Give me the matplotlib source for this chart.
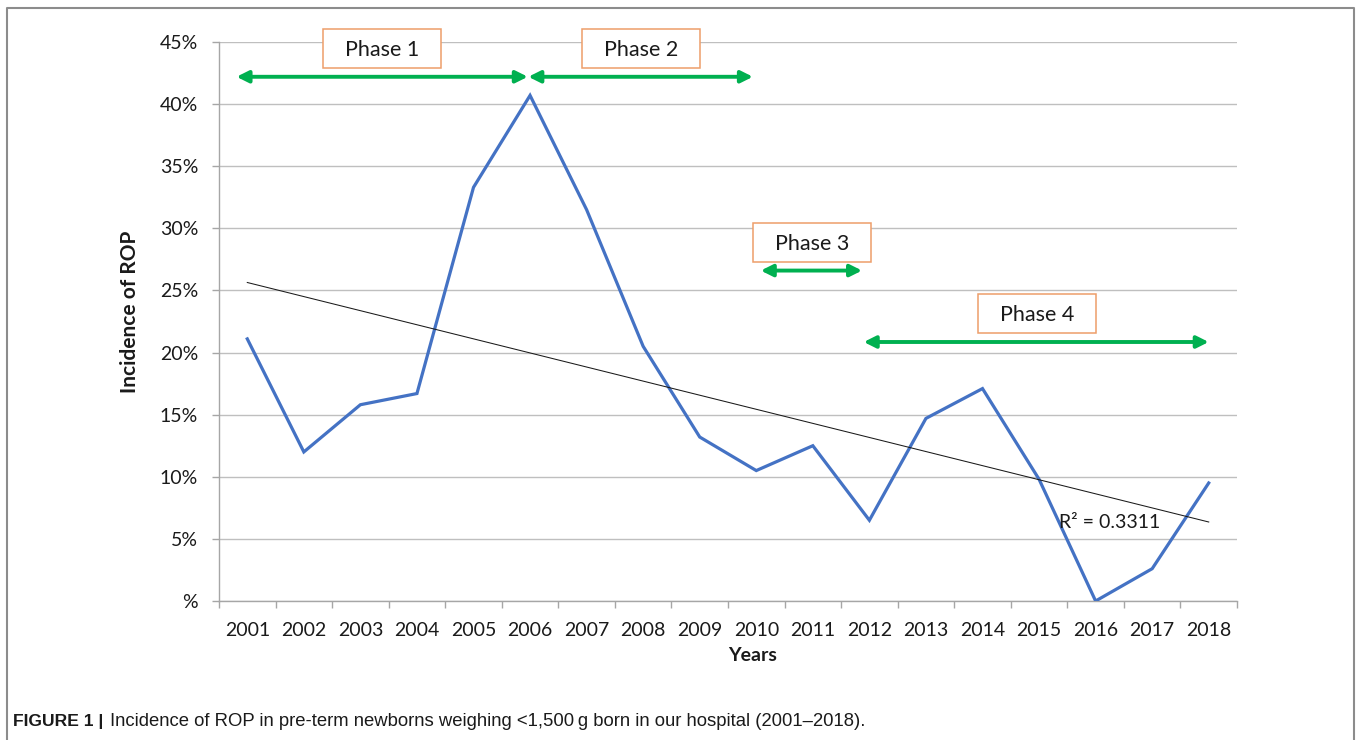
import numpy as np
import matplotlib
matplotlib.use("Agg")
import matplotlib.pyplot as plt
from matplotlib.patches import FancyArrowPatch, Rectangle
from matplotlib.lines import Line2D

plt.rcParams['font.family'] = ['Lato', 'DejaVu Sans']

years = [str(y) for y in range(2001, 2019)]
incidence = [21.1, 12.0, 15.8, 16.7, 33.3, 40.7, 31.5, 20.5, 13.2, 10.5,
             12.5, 6.5, 14.7, 17.1, 9.8, 0.0, 2.6, 9.5]
ytick_vals = [0, 5, 10, 15, 20, 25, 30, 35, 40, 45]
ytick_labels = ['%', '5%', '10%', '15%', '20%', '25%', '30%', '35%', '40%', '45%']

# phases: label, arrow start/end (category index), arrow y (%), box centre (index, %)
phase_labels = ['Phase 1', 'Phase 2', 'Phase 3', 'Phase 4']
phase_start = [-0.19, 4.97, 9.08, 10.9]
phase_end = [4.96, 8.94, 10.87, 17.0]
phase_arrow_y = [42.2, 42.2, 26.6, 20.85]
phase_box_x = [2.38, 6.97, 9.98, 13.96]
phase_box_y = [44.48, 44.48, 28.86, 23.15]
box_w, box_h = 2.087, 3.14

W, H = 1357, 740
fig = plt.figure(figsize=(W / 100, H / 100), dpi=100)
ax = fig.add_axes([219 / W, (740 - 601) / H, (1237 - 219) / W, (601 - 42) / H])

x = np.arange(len(years))
vals = np.array(incidence)

ax.plot(x, vals, color='#4472C4', lw=2.3, solid_joinstyle='miter', zorder=3)

coef = np.polyfit(x, vals, 1)
fit = np.polyval(coef, x)
ax.plot([x[0], x[-1]], [fit[0], fit[-1]], color='#1a1a1a', lw=0.75, zorder=4)
ax.text(14.35, 6.3, 'R² = 0.3311', fontsize=14, color='#1a1a1a', va='center', ha='left', zorder=5)

ax.set_xlim(-0.5, len(years) - 0.5)
ax.set_ylim(0, 45)
ax.set_yticks(ytick_vals)
ax.set_yticklabels(ytick_labels)
ax.set_xticks(x)
ax.set_xticklabels(years)
ax.set_xticks(np.arange(-0.5, len(years)), minor=True)
ax.tick_params(axis='x', which='major', length=0, pad=15, labelsize=14, labelcolor='#1a1a1a')
ax.tick_params(axis='x', which='minor', length=5, width=1, color='#A6A6A6', direction='out')
ax.tick_params(axis='y', length=5, width=1, color='#A6A6A6', pad=10, labelsize=14, labelcolor='#1a1a1a')

ax.grid(axis='y', color='#BFBFBF', lw=1)
ax.set_axisbelow(True)
for s in ['top', 'right']:
    ax.spines[s].set_visible(False)
for s in ['left', 'bottom']:
    ax.spines[s].set_color('#A6A6A6')
    ax.spines[s].set_linewidth(1)

ax.set_ylabel('Incidence of ROP', fontsize=15, fontweight='bold', color='#1a1a1a')
ax.yaxis.set_label_coords(-0.0776, 0.517)
ax.set_xlabel('Years', fontsize=14, fontweight='bold', color='#1a1a1a')
ax.xaxis.set_label_coords(0.5246, -0.083)

for lab, s, e, ay, bx, by in zip(phase_labels, phase_start, phase_end, phase_arrow_y, phase_box_x, phase_box_y):
    arr = FancyArrowPatch((s, ay), (e, ay), arrowstyle='<|-|>,head_length=7,head_width=3.5',
                          color='#00B050', lw=2.8, shrinkA=0, shrinkB=0, clip_on=False, zorder=6)
    ax.add_patch(arr)
    rect = Rectangle((bx - box_w / 2, by - box_h / 2), box_w, box_h, fc='white', ec='#EE9E6A',
                     lw=1.1, clip_on=False, zorder=7)
    ax.add_patch(rect)
    ax.text(bx, by, lab, fontsize=15.5, color='#1a1a1a', ha='center', va='center_baseline', zorder=8,
            clip_on=False)

# outer frame (open at the bottom)
frame = Line2D([7 / W, 7 / W, 1354 / W, 1354 / W], [0, 1 - 8 / H, 1 - 8 / H, 0],
               transform=fig.transFigure, color='#8C8C8C', lw=1.5)
fig.add_artist(frame)

cap_font = ['Liberation Sans', 'DejaVu Sans']
cap_y = 1 - 720 / H
t1 = fig.text(13 / W, cap_y, 'FIGURE 1 |', fontsize=12, fontweight='bold', va='center_baseline', ha='left',
              family=cap_font, color='#1a1a1a')
t2 = fig.text(110 / W, cap_y,
              'Incidence of ROP in pre-term newborns weighing <1,500\u2009g born in our hospital (2001\u20132018).',
              fontsize=12, va='center_baseline', ha='left', family=cap_font, color='#1a1a1a')
fig.canvas.draw()
r = fig.canvas.get_renderer()
b1 = t1.get_window_extent(r)
scale = (103 - 13) / b1.width
t1.set_fontsize(12 * scale)
b2 = t2.get_window_extent(r)
scale2 = (866 - 110) / b2.width
t2.set_fontsize(12 * scale2)

fig.savefig('out.png', dpi=100)
